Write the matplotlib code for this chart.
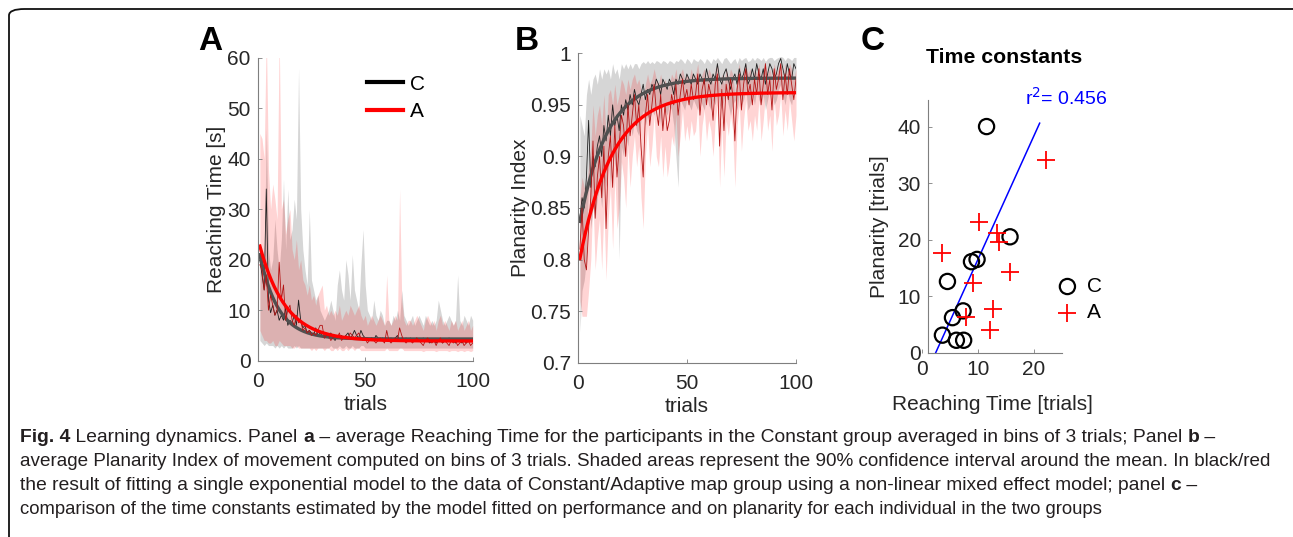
import numpy as np
import matplotlib
matplotlib.use("Agg")
import matplotlib.pyplot as plt
from matplotlib.lines import Line2D
from matplotlib.patches import FancyBboxPatch
from matplotlib.ticker import FormatStrFormatter

plt.rcParams['font.family'] = ['Liberation Sans', 'DejaVu Sans']

# ---- panel A: reaching time per trial ----
trials = np.arange(1, 101)

rt_c = [20, 17, 14, 34, 12, 9.5, 11, 9, 10, 8,
        9, 8, 10.5, 7, 8, 7.5, 9, 7, 12, 8,
        6.5, 7, 5.5, 6, 5.5, 5, 6.5, 5, 5.5, 5,
        4.5, 5, 4.5, 5.5, 4.5, 4, 5, 4.5, 5, 4.5,
        5, 5.5, 4.5, 5, 6, 5, 4.5, 6, 5, 4.5,
        4.5, 4, 4.5, 4, 5, 4.5, 4, 4.5, 4, 4.5,
        4, 4.5, 4, 4.5, 5, 4, 4.5, 4, 4.5, 4,
        4.5, 4, 4, 4.5, 4, 4, 4.5, 4, 4, 3.5,
        4, 4, 3.5, 4, 4, 3.5, 4, 4, 4.5, 4,
        4, 3.5, 4, 4, 3.5, 4, 3.5, 4, 4, 4]
rt_c_hi = [22, 20, 18, 46, 22, 18, 20, 28, 22, 18,
           24, 36, 22, 34, 24, 26, 32, 28, 58, 30,
           22, 18, 15, 30, 16, 14, 12, 13, 10, 9,
           8, 9, 10, 12, 10, 8, 15, 18, 14, 12,
           20, 17, 12, 21, 14, 12, 10, 19, 26, 15,
           10, 9, 8, 12, 9, 8, 10, 9, 7, 8,
           8, 7, 9, 8, 10, 8, 14, 9, 8, 7,
           8, 9, 7, 8, 9, 8, 7, 9, 8, 7,
           8, 7, 8, 12, 10, 8, 7, 8, 9, 8,
           7, 8, 17, 8, 7, 9, 8, 7, 9, 8]
rt_c_lo = [4, 3.5, 3, 3.5, 3, 3, 3, 2.5, 3, 2.5,
           3, 2.5, 3, 2.5, 2.5, 2.5, 3, 2.5, 3, 2.5,
           2.5, 2.5, 2.5, 2.5, 2.5, 2.5, 2.5, 2.5, 2.5, 2.5,
           2.5, 2.5, 2.5, 3, 2.5, 2.5, 2.5, 3, 2.5, 2.5,
           3, 2.5, 2.5, 3, 2.5, 2.5, 2.5, 3, 3, 2.5,
           2.5, 2.5, 2.5, 2.5, 2.5, 2.5, 2.5, 2.5, 2.5, 2.5,
           2.5, 2.5, 2.5, 2.5, 2.5, 2.5, 2.5, 2.5, 2.5, 2.5,
           2.5, 2.5, 2.5, 2.5, 2.5, 2.5, 2.5, 2.5, 2.5, 2.5,
           2.5, 2.5, 2.5, 2.5, 2.5, 2.5, 2.5, 2.5, 2.5, 2.5,
           2.5, 2.5, 2.5, 2.5, 2.5, 2.5, 2.5, 2.5, 2.5, 2.5]

rt_a = [19, 18, 14, 17, 10, 13, 11, 9, 10, 19.5,
        12, 15, 8, 10, 11, 8, 7, 9, 7.5, 8,
        6, 6.5, 5.5, 6, 5, 5.5, 5, 6, 7, 7,
        4.5, 5, 5, 4, 4.5, 5, 4.5, 5.5, 4, 4.5,
        5, 4.5, 5.5, 5, 4.5, 5, 5.5, 4.5, 4, 4.5,
        3.5, 4, 4.5, 4, 3.5, 4, 4.5, 4, 3.5, 6,
        4, 3.5, 4, 4.5, 4, 6.5, 5, 4, 3.5, 4,
        4, 3.5, 4, 4.5, 4, 3.5, 3, 4, 4.5, 4,
        3.5, 4, 3, 4, 4.5, 3.5, 4, 3.5, 3, 4,
        3.5, 4, 3, 3.5, 4, 3, 3.5, 4, 3, 3.5]
rt_a_hi = [45, 44, 40, 65, 38, 30, 35, 32, 28, 65,
           30, 32, 25, 28, 30, 22, 20, 24, 18, 20,
           16, 15, 13, 15, 12, 13, 11, 13, 14, 15,
           10, 11, 9, 10, 9, 10, 9, 11, 8, 9,
           10, 9, 11, 10, 9, 10, 11, 9, 8, 9,
           7, 8, 9, 8, 7, 8, 9, 8, 7, 17,
           8, 7, 8, 9, 8, 34, 12, 8, 7, 8,
           8, 7, 8, 9, 8, 7, 6, 8, 9, 8,
           7, 8, 6, 8, 9, 7, 8, 7, 6, 8,
           7, 8, 6, 7, 8, 6, 7, 8, 6, 7]
rt_a_lo = [6, 5, 4, 4, 3.5, 3.5, 4, 3, 3, 4,
           3.5, 3, 3, 3, 3, 2.5, 2.5, 3, 2.5, 2.5,
           2.5, 2.5, 2.5, 2.5, 2, 2.5, 2, 2.5, 2.5, 2.5,
           2, 2.5, 2.5, 2, 2, 2.5, 2, 2.5, 2, 2,
           2.5, 2, 2.5, 2.5, 2, 2.5, 2.5, 2, 2, 2,
           2, 2, 2, 2, 2, 2, 2, 2, 2, 2.5,
           2, 2, 2, 2, 2, 2.5, 2.5, 2, 2, 2,
           2, 2, 2, 2, 2, 2, 1.8, 2, 2, 2,
           2, 2, 1.8, 2, 2, 2, 2, 2, 1.8, 2,
           2, 2, 1.8, 2, 2, 1.8, 2, 2, 1.8, 2]

# exponential model fits: (value at trial 1, asymptote, time constant)
fit_rt_c = (21.0, 4.3, 8.5)
fit_rt_a = (22.7, 3.9, 12.0)

# ---- panel B: planarity index per trial ----
pi_c = [.84, .86, .85, .88, .935, .87, .90, .89, .91, .92,
        .90, .93, .915, .94, .92, .95, .93, .94, .925, .95,
        .94, .955, .945, .96, .95, .965, .955, .95, .96, .97,
        .955, .965, .96, .97, .965, .975, .97, .96, .975, .97,
        .965, .975, .97, .96, .975, .97, .98, .975, .97, .98,
        .975, .97, .98, .975, .97, .98, .975, .97, .985, .975,
        .97, .98, .975, .99, .975, .97, .98, .985, .975, .965,
        .975, .98, .97, .985, .975, .98, .99, .97, .975, .985,
        .975, .99, .98, .975, .985, .97, .98, .99, .985, .975,
        .98, .99, .995, .985, .975, .99, .98, .975, .99, .985]
pi_c_hi = [.94, .93, .92, .96, .975, .96, .975, .98, .97, .985,
           .975, .985, .98, .985, .975, .99, .98, .985, .975, .99,
           .985, .99, .985, .99, .985, .99, .99, .985, .99, .992,
           .99, .993, .99, .992, .99, .993, .992, .99, .993, .992,
           .99, .993, .992, .99, .993, .992, .995, .993, .99, .995,
           .993, .99, .995, .993, .992, .995, .993, .99, .995, .993,
           .99, .995, .993, .996, .993, .99, .995, .996, .993, .99,
           .993, .995, .99, .996, .993, .995, .996, .992, .993, .996,
           .993, .996, .995, .993, .996, .992, .995, .996, .996, .993,
           .995, .996, .997, .996, .993, .996, .995, .993, .996, .996]
pi_c_lo = [.73, .77, .78, .80, .88, .83, .85, .84, .86, .87,
           .85, .88, .87, .90, .87, .91, .89, .90, .80, .91,
           .90, .92, .91, .93, .92, .935, .925, .92, .935, .945,
           .93, .94, .935, .945, .94, .95, .945, .93, .95, .945,
           .94, .95, .945, .93, .90, .87, .955, .95, .945, .955,
           .95, .945, .955, .95, .945, .955, .95, .945, .96, .95,
           .945, .955, .95, .965, .95, .945, .955, .96, .95, .94,
           .95, .955, .945, .96, .95, .955, .965, .945, .95, .96,
           .95, .965, .955, .95, .96, .945, .955, .965, .96, .95,
           .955, .965, .97, .96, .95, .965, .955, .95, .965, .96]

pi_a = [.81, .85, .80, .79, .83, .86, .915, .84, .88, .90,
        .86, .91, .83, .90, .92, .87, .93, .88, .91, .94,
        .93, .90, .95, .92, .94, .96, .93, .95, .91, .88,
        .94, .96, .93, .95, .97, .945, .93, .96, .925, .95,
        .925, .935, .96, .95, .97, .94, .96, .975, .955, .965,
        .95, .97, .955, .96, .98, .94, .965, .975, .95, .97,
        .96, .935, .97, .98, .91, .965, .925, .97, .955, .975,
        .96, .915, .965, .98, .945, .97, .985, .96, .97, .95,
        .975, .96, .985, .95, .97, .99, .96, .975, .945, .985,
        .965, .975, .99, .955, .98, .96, .985, .97, .955, .975]
pi_a_hi = [.86, .88, .87, .87, .89, .91, .95, .92, .94, .95,
           .93, .96, .92, .96, .965, .95, .97, .95, .96, .975,
           .97, .96, .975, .965, .975, .98, .97, .975, .965, .955,
           .97, .98, .97, .975, .985, .975, .97, .98, .965, .975,
           .965, .97, .98, .975, .985, .97, .98, .985, .975, .98,
           .975, .985, .975, .98, .99, .97, .98, .985, .975, .985,
           .98, .97, .985, .99, .965, .98, .97, .985, .975, .985,
           .98, .96, .98, .99, .975, .985, .99, .98, .985, .975,
           .985, .98, .99, .975, .985, .99, .98, .985, .975, .99,
           .98, .985, .99, .975, .99, .98, .99, .985, .975, .985]
pi_a_lo = [.76, .745, .745, .745, .77, .80, .86, .79, .82, .84,
           .79, .85, .78, .84, .87, .81, .88, .83, .85, .895,
           .88, .85, .91, .87, .90, .92, .89, .91, .86, .83,
           .90, .93, .89, .91, .94, .90, .89, .92, .88, .91,
           .88, .895, .92, .91, .94, .90, .92, .945, .915, .93,
           .915, .935, .92, .925, .95, .90, .93, .945, .915, .935,
           .925, .90, .935, .95, .87, .93, .88, .935, .92, .94,
           .925, .87, .93, .95, .905, .935, .955, .925, .935, .915,
           .94, .925, .955, .915, .935, .96, .925, .94, .905, .955,
           .93, .94, .96, .92, .945, .925, .955, .935, .915, .94]

fit_pi_c = (0.837, 0.976, 13.0)
fit_pi_a = (0.801, 0.962, 15.0)

# ---- panel C: individual time constants ----
tc_rt_c = [3.6, 4.5, 5.4, 6.1, 7.4, 7.3, 8.8, 9.8, 11.5, 15.7]
tc_pl_c = [3.1, 12.6, 6.2, 2.2, 2.2, 7.4, 16.1, 16.5, 40.0, 20.5]
tc_rt_a = [3.6, 10.1, 13.3, 13.75, 22.2, 15.7, 9.0, 12.7, 12.1, 7.9]
tc_pl_a = [17.7, 23.1, 21.2, 19.5, 34.0, 14.3, 12.3, 7.8, 4.0, 6.4]
reg_x = [2.4, 21.0]
reg_y = [0.0, 40.6]
r2_label = 0.456

caption_runs = [
    [("Fig. 4", True), (" Learning dynamics. Panel ", False), ("a", True),
     (" \u2013 average Reaching Time for the participants in the Constant group averaged in bins of 3 trials; Panel ", False),
     ("b", True), (" \u2013", False)],
    [("average Planarity Index of movement computed on bins of 3 trials. Shaded areas represent the 90% confidence interval around the mean. In black/red", False)],
    [("the result of fitting a single exponential model to the data of Constant/Adaptive map group using a non-linear mixed effect model; panel ", False),
     ("c", True), (" \u2013", False)],
    [("comparison of the time constants estimated by the model fitted on performance and on planarity for each individual in the two groups", False)],
]

AX_COL = '#262626'
TICK_FS = 15
LAB_FS = 15


def expfit(params, t):
    start, asym, tau = params
    return asym + (start - asym) * np.exp(-(t - 1) / tau)


def style(ax, xpad=8, ypad=5):
    for s in ['top', 'right']:
        ax.spines[s].set_visible(False)
    for s in ['left', 'bottom']:
        ax.spines[s].set_color('#7f7f7f')
        ax.spines[s].set_linewidth(0.8)
    ax.tick_params(direction='in', length=3, width=0.6, color='#7f7f7f',
                   labelsize=TICK_FS, labelcolor=AX_COL)
    ax.tick_params(axis='x', pad=xpad)
    ax.tick_params(axis='y', pad=ypad)


def learning_panel(ax, c, c_lo, c_hi, a, a_lo, a_hi, fc, fa):
    t_fine = np.linspace(1, 100, 300)
    ax.fill_between(trials, c_lo, c_hi, color='black', alpha=0.16, lw=0)
    ax.plot(trials, c, color='#202020', lw=0.6)
    ax.plot(t_fine, expfit(fc, t_fine), color='#505050', lw=2.4)
    ax.fill_between(trials, a_lo, a_hi, color='red', alpha=0.17, lw=0)
    ax.plot(trials, a, color='#b41414', lw=0.6)
    ax.plot(t_fine, expfit(fa, t_fine), color='red', lw=2.4)
    ax.set_xlim(0, 100)
    ax.set_xticks([0, 50, 100])
    ax.set_xlabel('trials', fontsize=LAB_FS, color=AX_COL, labelpad=3)
    style(ax)


fig = plt.figure(figsize=(12.93, 5.37), dpi=100)

# frame around figure + caption
frame = FancyBboxPatch((9 / 1293, -20 / 537), 1300 / 1293, 548 / 537,
                       boxstyle='round,pad=0,rounding_size=0.012',
                       transform=fig.transFigure, fill=False, ec='#111111', lw=1.3)
fig.patches.append(frame)

# panel A
axA = fig.add_axes([257.7 / 1293, 176.3 / 537, 215 / 1293, 303 / 537])
learning_panel(axA, rt_c, rt_c_lo, rt_c_hi, rt_a, rt_a_lo, rt_a_hi, fit_rt_c, fit_rt_a)
axA.set_ylim(0, 60)
axA.set_yticks(range(0, 61, 10))
axA.set_ylabel('Reaching Time [s]', fontsize=LAB_FS, color=AX_COL, labelpad=1)
handles = [Line2D([], [], color='black', lw=3), Line2D([], [], color='red', lw=3)]
axA.legend(handles, ['C', 'A'], loc='upper left', bbox_to_anchor=(0.45, 0.985),
           frameon=False, fontsize=15, handlelength=1.75, handletextpad=0.3,
           labelspacing=0.42, borderaxespad=0.2)

# panel B
axB = fig.add_axes([577.7 / 1293, 174.3 / 537, 218.3 / 1293, 309.4 / 537])
learning_panel(axB, pi_c, pi_c_lo, pi_c_hi, pi_a, pi_a_lo, pi_a_hi, fit_pi_c, fit_pi_a)
axB.set_ylim(0.7, 1.0)
axB.set_yticks(np.arange(0.7, 1.001, 0.05))
axB.yaxis.set_major_formatter(FormatStrFormatter('%g'))
axB.set_ylabel('Planarity Index', fontsize=LAB_FS, color=AX_COL, labelpad=0)

# panel C (x axis spans 0-25, y axis drawn at x = 1 as in the original)
axC = fig.add_axes([922.3 / 1293, 184.3 / 537, 139.7 / 1293, 252.7 / 537])
axC.plot(reg_x, reg_y, color='blue', lw=1.1)
axC.scatter(tc_rt_c, tc_pl_c, s=120, facecolors='none', edgecolors='black',
            linewidths=1.6, label='C', zorder=3)
axC.scatter(tc_rt_a, tc_pl_a, s=150, marker='+', color='red', linewidths=1.3,
            label='A', zorder=3)
axC.set_xlim(0, 25)
axC.set_ylim(0, 44.7)
axC.set_xticks([0, 10, 20])
axC.set_yticks([0, 10, 20, 30, 40])
style(axC, xpad=5, ypad=5)
axC.spines['left'].set_position(('data', 1))
axC.spines['bottom'].set_bounds(1, 25)
axC.set_xlabel('Reaching Time [trials]', fontsize=LAB_FS, color=AX_COL, labelpad=12)
axC.set_ylabel('Planarity [trials]', fontsize=LAB_FS, color=AX_COL, labelpad=6)
fig.text(1004 / 1293, 1 - 57 / 537, 'Time constants', fontsize=15.3,
         fontweight='bold', ha='center', va='center')
axC.text(1.03, 1.008, 'r$^2$= %.3f' % r2_label, transform=axC.transAxes,
         color='blue', fontsize=14, ha='center', va='center')
axC.legend(loc='center left', bbox_to_anchor=(0.83, 0.21), frameon=False,
           fontsize=15, handlelength=1.0, handletextpad=0.45, labelspacing=0.35)

# panel letters
for lab, x in [('A', 210), ('B', 527), ('C', 873)]:
    fig.text(x / 1293, 1 - 41 / 537, lab, fontsize=24, fontweight='bold',
             ha='center', va='center')

# caption with bold runs chained together
cap = fig.add_axes([0, 0, 1, 1])
cap.axis('off')
cap.set_zorder(-1)
line_y = [437, 462, 486, 510]
line_fs = [13.9, 13.6, 13.9, 13.3]
for runs, yy, fs in zip(caption_runs, line_y, line_fs):
    prev = None
    for txt, bold in runs:
        kw = dict(fontsize=fs, color='#231f20',
                  fontweight='bold' if bold else 'normal')
        if prev is None:
            prev = cap.text(20 / 1293, 1 - yy / 537, txt, ha='left', va='center',
                            transform=fig.transFigure, **kw)
        else:
            prev = cap.annotate(txt, xy=(1, 0), xycoords=prev, ha='left',
                                va='bottom', **kw)

fig.savefig('out.png', dpi=100)
